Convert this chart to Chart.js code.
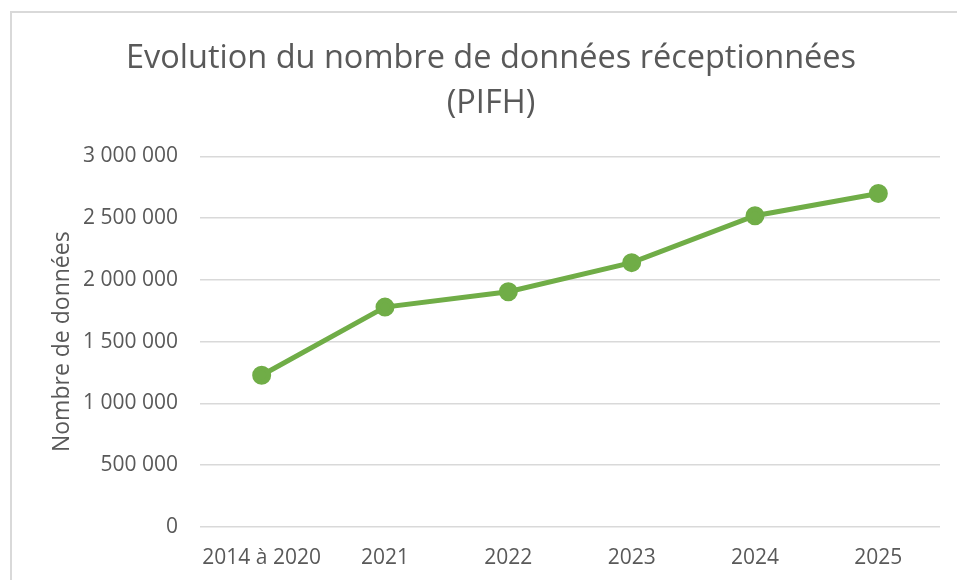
<!DOCTYPE html>
<html>
<head>
<meta charset="utf-8">
<script src="https://cdn.jsdelivr.net/npm/chart.js@4"></script>
<style>
  html, body { margin: 0; padding: 0; background: #fff; }
  #frame { position: absolute; left: 10px; top: 11px; width: 1000px; height: 700px; border: 2px solid #d9d9d9; box-sizing: border-box; }
  #wrap { position: absolute; left: 0; top: 0; width: 957px; height: 580px; }
</style>
</head>
<body>
<div id="frame"></div>
<div id="wrap"><canvas id="myChart" width="957" height="580"></canvas></div>
<script>
// values
var categories = ['2014 à 2020', '2021', '2022', '2023', '2024', '2025'];
var receivedData = [1228000, 1780000, 1905000, 2140000, 2520000, 2700000];
var yTicks = [0, 500000, 1000000, 1500000, 2000000, 2500000, 3000000];

var textColor = '#595959';
var font = 'Open Sans';

function spaced(v) {
    return String(v).replace(/\B(?=(\d{3})+(?!\d))/g, ' ');
}

var ctx = document.getElementById('myChart');
new Chart(ctx, {
    type: 'line',
    data: {
        labels: categories,
        datasets: [{
            data: receivedData,
            borderColor: '#70ad47',
            backgroundColor: '#70ad47',
            borderWidth: 5,
            pointRadius: 7,
            pointHoverRadius: 7,
            tension: 0
        }]
    },
    options: {
        responsive: false,
        animation: false,
        events: [],
        layout: { padding: { top: 37, right: 17, left: 42, bottom: 0 } },
        plugins: {
            legend: { display: false },
            tooltip: { enabled: false },
            title: {
                display: true,
                text: ['Evolution du nombre de données réceptionnées', '(PIFH)'],
                color: textColor,
                font: { family: font, size: 32.5, weight: 'normal', lineHeight: 1.36 },
                padding: { top: 0, bottom: 31 }
            }
        },
        scales: {
            x: {
                offset: true,
                grid: { display: false, drawTicks: false },
                border: { display: false },
                ticks: {
                    color: textColor,
                    font: { family: font, size: 21 },
                    padding: 18,
                    maxRotation: 0
                },
                afterFit: function (s) { s.height = 53; }
            },
            y: {
                min: 0,
                max: 3000000,
                afterBuildTicks: function (s) {
                    s.ticks = yTicks.map(function (v) { return { value: v }; });
                },
                grid: { color: '#d9d9d9', lineWidth: 1.5, drawTicks: false },
                border: { display: false },
                ticks: {
                    color: textColor,
                    font: { family: font, size: 21 },
                    padding: 22,
                    callback: function (v) { return spaced(v); }
                },
                title: {
                    display: true,
                    text: 'Nombre de données',
                    color: textColor,
                    font: { family: font, size: 23 },
                    padding: { top: 7, bottom: 0 }
                },
                afterFit: function (s) { s.width = 158; }
            }
        }
    }
});
</script>
</body>
</html>
